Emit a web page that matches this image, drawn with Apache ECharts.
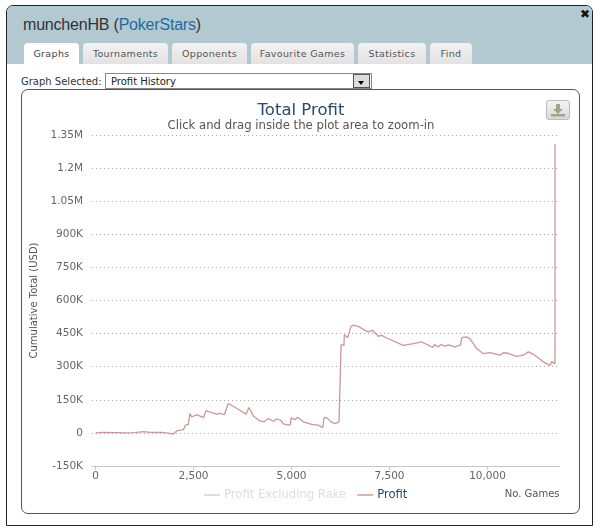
<!DOCTYPE html>
<html><head><meta charset="utf-8">
<script src="https://cdn.jsdelivr.net/npm/echarts@6/dist/echarts.min.js"></script>
<style>
html,body{margin:0;padding:0;background:#fff;width:600px;height:528px;overflow:hidden}
*{box-sizing:border-box}
.abs{position:absolute}
#dlg{left:6px;top:5px;width:587px;height:521px;border:1px solid #222;border-radius:7px 7px 0 0;background:#fff;overflow:hidden}
#hdr{left:7px;top:6px;width:585px;height:58px;background:#b3c9d1;border-radius:6px 6px 0 0}
#name{left:23px;top:16px;font:16px "Liberation Sans",Arial,sans-serif;color:#333;letter-spacing:-.2px}
#name span{color:#1f6aa5}
.tab{top:43px;height:21px;background:linear-gradient(#f2f2f2,#e2e2e2);border-radius:4px 4px 0 0;font:9.5px "DejaVu Sans",sans-serif;color:#555;text-align:center;line-height:21px;letter-spacing:.35px}
.tab.on{background:#fff;color:#444}
#lab{left:21px;top:76px;font:10px "DejaVu Sans",sans-serif;color:#333}
#sel{left:105px;top:73px;width:267px;height:16px;border:1px solid #888;background:#fff;font:10px "DejaVu Sans",sans-serif;color:#222;line-height:15px;padding-left:5px}
#arr{left:353px;top:74px;width:17px;height:14px;background:#ddd;border:1px solid #555}
#arr:after{content:"";position:absolute;left:4px;top:6px;border:3.5px solid transparent;border-top:4px solid #000}
#panel{left:21px;top:89px;width:559px;height:425px;border:1px solid #555;border-radius:7px;background:#fff}
#btn{left:546px;top:100px;width:24px;height:20px;border:1px solid #bbb;border-radius:3px;background:linear-gradient(#f4f4f4,#d8d8d8)}
#close{left:580px;top:7px;font:bold 12px "DejaVu Sans",sans-serif;color:#111}
#chart{left:0;top:0;width:600px;height:528px}
</style></head><body>
<div class="abs" id="dlg"></div>
<div class="abs" id="hdr"></div>
<div class="abs" id="name">munchenHB (<span>PokerStars</span>)</div>
<div class="abs" id="close">✖</div>
<div class="abs tab on" style="left:24px;width:55px">Graphs</div>
<div class="abs tab" style="left:83px;width:85px">Tournaments</div>
<div class="abs tab" style="left:172px;width:75px">Opponents</div>
<div class="abs tab" style="left:251px;width:103px">Favourite Games</div>
<div class="abs tab" style="left:358px;width:68px">Statistics</div>
<div class="abs tab" style="left:430px;width:42px">Find</div>
<div class="abs" id="lab">Graph Selected:</div>
<div class="abs" id="sel">Profit History</div>
<div class="abs" id="arr"></div>
<div class="abs" id="panel"></div>
<div class="abs" id="chart"></div>
<div class="abs" id="btn"><svg width="22" height="18" viewBox="0 0 22 18"><path d="M9 3h4v5h3l-5 5-5-5h3z" fill="#9aa88c"/><rect x="4" y="13" width="14" height="2.5" fill="#9aa88c"/></svg></div>
<script>
const titleText = 'Total Profit';
const subtitleText = 'Click and drag inside the plot area to zoom-in';
const seriesNames = ['Profit Excluding Rake', 'Profit'];
const yTickLabels = {'-150000':'-150K','0':'0','150000':'150K','300000':'300K','450000':'450K','600000':'600K','750000':'750K','900000':'900K','1050000':'1.05M','1200000':'1.2M','1350000':'1.35M'};
const xTicks = [0, 2500, 5000, 7500, 10000];
const games = [0,200,500,800,1000,1220,1400,1700,1850,1985,2071,2240,2300,2367,2395,2411,2454,2582,2750,2819,2964,3092,3176,3287,3312,3388,3643,3839,3916,4026,4069,4196,4306,4408,4536,4621,4732,4791,4919,4975,4987,5089,5158,5301,5514,5684,5727,5796,5829,5897,6007,6109,6212,6237,6262,6265,6339,6347,6432,6518,6577,6705,6875,6960,7062,7215,7300,7428,7852,8107,8320,8533,8600,8643,8745,8805,8916,9000,9170,9316,9342,9470,9554,9724,9894,10064,10320,10388,10505,10745,10915,11042,11170,11425,11594,11637,11722,11724];
const profit = [0,2000,1000,0,1000,6000,2000,2000,-1000,-5000,9000,15000,35000,39000,33000,88000,72000,83000,69000,101000,92000,85000,88000,83000,97000,133000,107000,85000,115000,77000,68000,54000,50000,65000,53000,63000,57000,41000,35000,38000,68000,60000,71000,50000,39000,35000,27000,24000,69000,69000,50000,42000,50000,45000,45000,400000,397000,445000,432000,483000,488000,483000,465000,458000,465000,438000,442000,430000,397000,405000,412000,394000,387000,400000,390000,400000,393000,399000,390000,399000,432000,435000,426000,382000,359000,364000,352000,362000,362000,347000,352000,367000,356000,322000,306000,323000,314000,1309000];
const profitExRake = [];

const LABEL = '#666', NAVY = '#274b6d', LINE = '#cc9797';
const chart = echarts.init(document.getElementById('chart'));
chart.setOption({
  animation:false,
  backgroundColor:'transparent',
  title:{text:titleText,subtext:subtitleText,left:296,textAlign:'center',top:97,itemGap:1,
    textStyle:{fontFamily:'"DejaVu Sans"',fontSize:16.5,fontWeight:'normal',color:NAVY},
    subtextStyle:{fontFamily:'"DejaVu Sans"',fontSize:11.7,color:'#555'}},
  legend:{left:199,top:484,itemGap:11,itemWidth:16,itemHeight:2,icon:'rect',
    data:seriesNames,selected:{[seriesNames[0]]:false},inactiveColor:'#ddd',
    textStyle:{fontFamily:'"DejaVu Sans"',fontSize:11.6,color:NAVY,padding:[0,0,0,-1]}},
  grid:{left:92,right:40.5,top:135,bottom:62},
  xAxis:{type:'value',min:-90,max:11837,
    name:'No. Games',nameLocation:'end',nameGap:0,
    nameTextStyle:{fontFamily:'"DejaVu Sans"',fontSize:10,color:'#555',align:'right',verticalAlign:'top',padding:[23,0,0,0]},
    axisLine:{show:true,onZero:false,lineStyle:{color:'#c0c8d0',width:1}},
    axisTick:{show:true,length:4,customValues:xTicks,lineStyle:{color:'#c0c8d0'}},
    axisLabel:{customValues:xTicks,margin:5,color:LABEL,fontFamily:'"DejaVu Sans"',fontSize:10.5,
      formatter:v=>v.toLocaleString('en-US')},
    splitLine:{show:false}},
  yAxis:{type:'value',min:-150000,max:1350000,interval:150000,
    name:'Cumulative Total (USD)',nameLocation:'middle',nameGap:48,nameRotate:90,
    nameTextStyle:{fontFamily:'"DejaVu Sans"',fontSize:10,color:'#555'},
    axisLine:{show:false},axisTick:{show:false},
    axisLabel:{margin:9,color:LABEL,fontFamily:'"DejaVu Sans"',fontSize:10.5,padding:[2,0,0,0],formatter:v=>yTickLabels[v]},
    splitLine:{show:true,lineStyle:{type:[1,3],color:'#aaa',width:1}}},
  series:[
    {name:seriesNames[0],type:'line',showSymbol:false,data:profitExRake,itemStyle:{color:'#ccc'},lineStyle:{color:'#ccc'}},
    {name:seriesNames[1],type:'line',showSymbol:false,data:games.map((g,i)=>[g,profit[i]]),
      itemStyle:{color:'#d8b6b4'},lineStyle:{color:LINE,width:1.3}}
  ]
});
</script>
</body></html>
